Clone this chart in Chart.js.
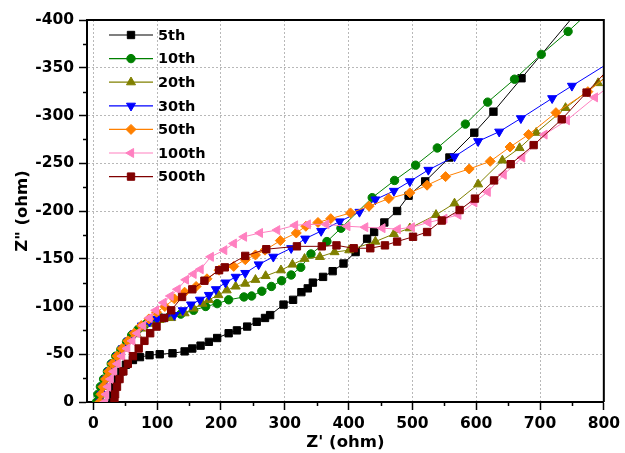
<!DOCTYPE html>
<html>
<head>
<meta charset="utf-8">
<script src="https://cdn.jsdelivr.net/npm/chart.js"></script>
<style>
  body { margin: 0; background: #fff; }
</style>
</head>
<body>
<canvas id="nyquist" width="625" height="453"></canvas>
<script>
// cycle labels
const cycles = ['5th', '10th', '20th', '30th', '50th', '100th', '500th'];

// axis tick values
const xTickValues = [0, 100, 200, 300, 400, 500, 600, 700, 800];
const yTickValues = [0, -50, -100, -150, -200, -250, -300, -350, -400];

// Z' (ohm) and Z'' (ohm), one pair per cycle
const zre5 = [30,31,34,38,44,51,62,73,88,104,124,143,155,168,181,194,212,225,241,256,269,277,298,313,326,336,344,360,375,392,411,429,440,456,476,494,520,558,597,627,671,760];
const zim5 = [0,-8,-16,-24,-32,-39,-44,-47,-49,-50,-51,-53,-56,-59,-63,-67,-72,-75,-79,-84,-88,-91,-102,-107,-115,-119,-125,-131,-137,-145,-157,-171,-178,-188,-200,-216,-231,-256,-282,-304,-339,-410];

const zre10 = [5,7,11,16,22,28,35,43,52,60,70,81,93,106,120,137,157,176,194,212,236,248,264,279,295,310,325,341,366,388,437,472,505,539,583,618,660,702,744,786];
const zim10 = [0,-8,-16,-24,-32,-40,-48,-55,-63,-70,-76,-81,-85,-88,-90,-92,-96,-100,-103,-107,-110,-111,-116,-121,-127,-133,-141,-155,-168,-182,-214,-232,-248,-266,-291,-314,-338,-364,-388,-414];

const zre20 = [14,16,19,23,28,34,41,49,58,68,79,91,104,122,143,157,171,181,196,209,223,238,254,270,294,312,331,355,378,401,442,471,496,537,566,603,641,668,694,740,791,820];
const zim20 = [0,-8,-16,-24,-32,-40,-48,-56,-64,-71,-77,-82,-86,-88,-93,-98,-103,-107,-112,-117,-121,-124,-128,-132,-138,-144,-150,-152,-157,-159,-168,-176,-182,-196,-208,-228,-253,-266,-282,-308,-334,-349];

const zre30 = [11,13,16,20,25,31,38,46,55,65,76,88,100,113,127,140,153,167,181,192,207,223,238,259,282,310,332,357,386,417,442,471,496,525,566,603,636,670,719,750,815];
const zim30 = [0,-8,-16,-24,-32,-40,-48,-56,-64,-72,-80,-84,-87,-89,-91,-96,-102,-107,-112,-118,-125,-131,-135,-144,-152,-161,-171,-179,-189,-199,-212,-221,-231,-243,-257,-273,-283,-297,-318,-331,-358];

const zre50 = [10,12,15,19,24,30,37,45,54,64,75,87,99,112,127,143,161,178,197,220,238,254,269,293,318,333,352,372,403,432,463,496,523,552,589,622,653,682,725,775,805];
const zim50 = [0,-8,-16,-24,-32,-40,-48,-56,-64,-72,-80,-87,-94,-100,-108,-115,-121,-129,-138,-142,-149,-154,-159,-169,-177,-184,-188,-192,-198,-205,-213,-219,-227,-236,-244,-252,-267,-280,-303,-325,-341];

const zre100 = [18,20,23,27,32,38,45,53,61,69,78,88,98,110,121,132,145,157,168,184,205,220,236,261,288,316,336,365,398,426,453,477,499,525,550,572,597,618,643,672,707,742,786,815];
const zim100 = [0,-8,-16,-24,-32,-40,-48,-56,-64,-72,-80,-88,-96,-104,-111,-118,-128,-134,-139,-152,-159,-166,-173,-177,-180,-185,-186,-186,-184,-183,-182,-181,-183,-188,-192,-196,-209,-220,-238,-256,-280,-295,-319,-334];

const zre500 = [33,34,37,41,47,54,62,71,80,89,99,111,122,139,155,174,197,206,238,271,319,358,381,408,434,457,476,501,523,546,574,598,628,654,690,734,773,812];
const zim500 = [0,-8,-16,-24,-32,-40,-48,-56,-64,-72,-79,-88,-96,-110,-118,-127,-138,-141,-153,-160,-163,-163,-164,-161,-161,-164,-168,-173,-178,-190,-201,-213,-232,-249,-269,-296,-324,-352];

const zreAll = [zre5, zre10, zre20, zre30, zre50, zre100, zre500];
const zimAll = [zim5, zim10, zim20, zim30, zim50, zim100, zim500];

// look of each series (Origin style colours / symbols)
const colors = ['#000000', '#008000', '#808000', '#0000ff', '#ff8000', '#ff80c0', '#800000'];
const symbols = ['rect', 'circle', 'triangle', 'triangle', 'rectRot', 'triangle', 'rect'];
const rotations = [0, 0, 0, 180, 0, 270, 0];
const radii = [5.2, 4.2, 5.2, 5.2, 5, 5.2, 5.2];

const FONT = "'DejaVu Sans', 'Liberation Sans', Arial, sans-serif";

const datasets = cycles.map((label, i) => ({
    label: label,
    data: zreAll[i].map((x, j) => ({ x: x, y: zimAll[i][j] })),
    borderColor: colors[i],
    backgroundColor: colors[i],
    borderWidth: 1,
    pointStyle: symbols[i],
    rotation: rotations[i],
    pointRadius: radii[i],
    pointBorderWidth: 1,
    pointBackgroundColor: colors[i],
    pointBorderColor: colors[i],
    showLine: true,
    tension: 0,
    order: cycles.length - i
}));

// box frame, minor ticks, and the line+symbol legend
const decor = {
    id: 'decor',
    afterDraw(chart) {
        const { ctx, chartArea: a, scales: { x, y } } = chart;
        ctx.save();
        ctx.strokeStyle = '#000';
        ctx.lineWidth = 2;
        ctx.beginPath();
        ctx.moveTo(a.left, a.top);
        ctx.lineTo(a.right, a.top);
        ctx.lineTo(a.right, a.bottom);
        ctx.stroke();

        ctx.lineWidth = 1.5;
        ctx.beginPath();
        for (let v = 50; v < 800; v += 100) {
            const px = Math.round(x.getPixelForValue(v)) + 0.5;
            ctx.moveTo(px, a.bottom);
            ctx.lineTo(px, a.bottom + 4);
        }
        for (let v = -25; v > -400; v -= 50) {
            const py = Math.round(y.getPixelForValue(v)) + 0.5;
            ctx.moveTo(a.left, py);
            ctx.lineTo(a.left - 4, py);
        }
        ctx.stroke();

        ctx.font = 'bold 14.5px ' + FONT;
        ctx.textBaseline = 'middle';
        ctx.textAlign = 'left';
        cycles.forEach((label, i) => {
            const ly = 35 + i * 23.6;
            ctx.strokeStyle = colors[i];
            ctx.fillStyle = colors[i];
            ctx.lineWidth = 1.2;
            ctx.beginPath();
            ctx.moveTo(109, ly);
            ctx.lineTo(153, ly);
            ctx.stroke();
            ctx.lineWidth = 1;
            Chart.helpers.drawPoint(ctx, {
                pointStyle: symbols[i],
                rotation: rotations[i],
                radius: radii[i],
                borderWidth: 1
            }, 131, ly);
            ctx.fillStyle = '#000';
            ctx.fillText(label, 158, ly + 1);
        });
        ctx.restore();
    }
};

const gridColor = (c) => c.tick && c.tick.value === 0 && c.scale.axis === 'y' ? 'rgba(0,0,0,0)' : '#b8b8b8';

new Chart('nyquist', {
    type: 'scatter',
    data: { datasets: datasets },
    plugins: [decor],
    options: {
        responsive: false,
        animation: false,
        layout: { padding: { top: 20, right: 16, bottom: 0, left: 0 } },
        plugins: {
            legend: { display: false },
            tooltip: { enabled: false }
        },
        scales: {
            x: {
                type: 'linear',
                min: -10,
                max: 800,
                afterFit: (s) => { s.height = 51; },
                afterBuildTicks: (s) => { s.ticks = xTickValues.map(v => ({ value: v })); },
                ticks: {
                    autoSkip: false,
                    maxRotation: 0,
                    padding: 5,
                    color: '#000',
                    font: { family: FONT, size: 15.5, weight: 'bold' }
                },
                grid: {
                    color: gridColor,
                    lineWidth: 1,
                    tickColor: '#000',
                    tickLength: 8,
                    tickWidth: 1.5
                },
                border: { display: true, color: '#000', width: 2, dash: [2, 2] },
                title: {
                    display: true,
                    text: "Z' (ohm)",
                    color: '#000',
                    font: { family: FONT, size: 16.5, weight: 'bold' },
                    padding: { top: 0, bottom: 0 }
                }
            },
            y: {
                type: 'linear',
                min: -400,
                max: 0,
                reverse: true,
                afterFit: (s) => { s.width = 87; },
                afterBuildTicks: (s) => { s.ticks = yTickValues.map(v => ({ value: v })); },
                ticks: {
                    autoSkip: false,
                    padding: 5,
                    color: '#000',
                    font: { family: FONT, size: 15.5, weight: 'bold' }
                },
                grid: {
                    color: gridColor,
                    lineWidth: 1,
                    tickColor: '#000',
                    tickLength: 8,
                    tickWidth: 1.5
                },
                border: { display: true, color: '#000', width: 2, dash: [2, 2] },
                title: {
                    display: true,
                    text: 'Z" (ohm)',
                    color: '#000',
                    font: { family: FONT, size: 16.5, weight: 'bold' },
                    padding: { top: 13, bottom: 0 }
                }
            }
        }
    }
});
</script>
</body>
</html>
